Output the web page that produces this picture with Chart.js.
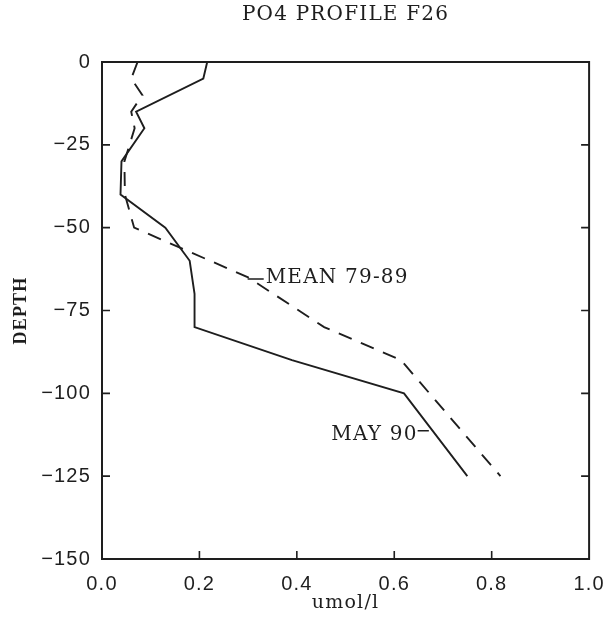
<!DOCTYPE html>
<html>
<head>
<meta charset="utf-8">
<title>PO4 profile F26</title>
<script src="https://cdn.jsdelivr.net/npm/chart.js@4.4.1/dist/chart.umd.min.js"></script>
<style>
  html, body { margin: 0; padding: 0; background: #fff; }
</style>
</head>
<body>
<canvas id="chart" width="616" height="621"></canvas>
<script>
// depth (m, negative down) and phosphate (umol/l) for each profile
const mayDepth = [0, -5, -15, -20, -30, -40, -50, -60, -70, -80, -90, -100, -125];
const mayPo4 = [0.216, 0.208, 0.07, 0.087, 0.04, 0.038, 0.13, 0.18, 0.19, 0.19, 0.39, 0.62, 0.75];
const meanDepth = [0, -5, -10, -15, -20, -30, -40, -50, -65, -80, -90, -125];
const meanPo4 = [0.073, 0.06, 0.083, 0.06, 0.067, 0.046, 0.047, 0.066, 0.30, 0.456, 0.614, 0.818];
const depthTicks = [0, -25, -50, -75, -100, -125, -150];
const po4Ticks = [0, 0.2, 0.4, 0.6, 0.8, 1.0];

const INK = "#1e1e1e";
const SERIF = "'DejaVu Serif', serif";

function toPoints(xs, ys) {
  return xs.map((x, i) => ({ x: x, y: ys[i] }));
}

// box around the plot, inward tick marks and the curve labels
const frameTicks = {
  id: "frameTicks",
  beforeDraw(chart) {
    chart.ctx.letterSpacing = "1.2px";
  },
  afterDraw(chart) {
    const { ctx, chartArea: a, scales } = chart;
    const sx = scales.x;
    const sy = scales.y;
    ctx.save();
    ctx.strokeStyle = INK;
    ctx.lineWidth = 2;
    ctx.strokeRect(a.left, a.top, a.right - a.left, a.bottom - a.top);

    ctx.lineWidth = 1.6;
    ctx.beginPath();
    depthTicks.slice(1, -1).forEach((v) => {
      const y = sy.getPixelForValue(v);
      ctx.moveTo(a.left, y);
      ctx.lineTo(a.left + 8, y);
      ctx.moveTo(a.right, y);
      ctx.lineTo(a.right - 8, y);
    });
    po4Ticks.slice(1, -1).forEach((v) => {
      const x = sx.getPixelForValue(v);
      ctx.moveTo(x, a.bottom);
      ctx.lineTo(x, a.bottom - 8);
    });

    // short leaders from each label to its curve
    const y1 = sy.getPixelForValue(-65.5);
    ctx.moveTo(sx.getPixelForValue(0.299), y1);
    ctx.lineTo(sx.getPixelForValue(0.332), y1);
    const y2 = sy.getPixelForValue(-111.3);
    ctx.moveTo(sx.getPixelForValue(0.648), y2);
    ctx.lineTo(sx.getPixelForValue(0.671), y2);
    ctx.stroke();

    ctx.fillStyle = INK;
    ctx.font = "20px " + SERIF;
    ctx.textBaseline = "alphabetic";
    ctx.textAlign = "left";
    ctx.fillText("MEAN 79-89", sx.getPixelForValue(0.336), sy.getPixelForValue(-66.7));
    ctx.textAlign = "right";
    ctx.fillText("MAY 90", sx.getPixelForValue(0.648), sy.getPixelForValue(-114));
    ctx.restore();
  },
};

new Chart(document.getElementById("chart").getContext("2d"), {
  type: "scatter",
  data: {
    datasets: [
      {
        label: "MAY 90",
        data: toPoints(mayPo4, mayDepth),
        showLine: true,
        borderColor: INK,
        borderWidth: 1.9,
        pointRadius: 0,
      },
      {
        label: "MEAN 79-89",
        data: toPoints(meanPo4, meanDepth),
        showLine: true,
        borderColor: INK,
        borderWidth: 1.9,
        borderDash: [14, 10],
        pointRadius: 0,
      },
    ],
  },
  options: {
    responsive: false,
    animation: false,
    layout: { padding: { left: 0, right: 19, top: 0, bottom: 0 } },
    plugins: {
      legend: { display: false },
      tooltip: { enabled: false },
      title: {
        display: true,
        fullSize: false,
        text: "PO4 PROFILE F26",
        color: INK,
        font: { family: SERIF, size: 20, weight: "normal" },
        padding: { top: 3, bottom: 35 },
      },
    },
    scales: {
      x: {
        type: "linear",
        min: 0,
        max: 1,
        afterFit: (s) => { s.height = 62; },
        afterBuildTicks: (s) => { s.ticks = po4Ticks.map((v) => ({ value: v })); },
        grid: { display: false, drawTicks: false },
        border: { display: false },
        ticks: {
          color: INK,
          padding: 13,
          maxRotation: 0,
          font: { family: "'Liberation Sans', sans-serif", size: 20 },
          callback: (v) => v.toFixed(1),
        },
        title: {
          display: true,
          text: "umol/l",
          color: INK,
          font: { family: SERIF, size: 19 },
          padding: { top: 7, bottom: 7 },
        },
      },
      y: {
        type: "linear",
        min: -150,
        max: 0,
        afterFit: (s) => { s.width = 102; },
        afterBuildTicks: (s) => { s.ticks = depthTicks.map((v) => ({ value: v })); },
        grid: { display: false, drawTicks: false },
        border: { display: false },
        ticks: {
          color: INK,
          padding: 11,
          font: { family: "'Liberation Sans', sans-serif", size: 20 },
          callback: (v) => (v < 0 ? "\u2212" + -v : String(v)),
        },
        title: {
          display: true,
          text: "DEPTH",
          color: INK,
          font: { family: "'Liberation Serif', serif", size: 18, weight: "bold" },
          padding: { top: 11, bottom: 11 },
        },
      },
    },
  },
  plugins: [frameTicks],
});
</script>
</body>
</html>
